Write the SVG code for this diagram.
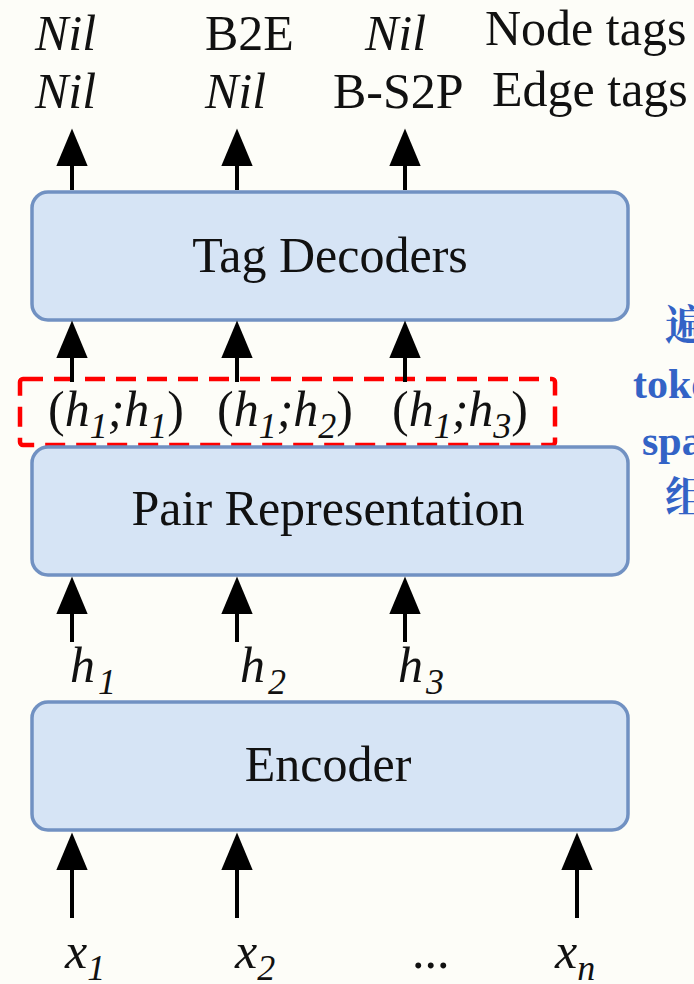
<svg xmlns="http://www.w3.org/2000/svg" width="694" height="984" viewBox="0 0 694 984">
<style>
.bg{fill:#fdfdf8}
.box{fill:#d6e4f5;stroke:#7191c2;stroke-width:3.5}
.lbl{font-family:"Liberation Serif","Times New Roman",serif;font-size:50px;fill:#111}
.it{font-style:italic}
.sub{font-size:36px;font-style:italic}
.arr{stroke:#000;stroke-width:4;fill:none;marker-end:url(#ah)}
.note{font-family:"Liberation Serif","Noto Serif CJK SC","Noto Sans CJK SC",serif;font-weight:bold;font-size:42px;fill:#3363c6}
</style>
<defs>
<marker id="ah" markerUnits="userSpaceOnUse" markerWidth="40" markerHeight="32" viewBox="0 0 38 30" refX="6" refY="15" orient="auto">
<path d="M0,0 L36,15 L0,30 z" fill="#000"/>
</marker>
</defs>
<rect class="bg" x="0" y="0" width="694" height="984"/>

<g id="output-tags" class="lbl">
<text x="35" y="50" class="it">Nil</text>
<text x="205" y="50">B2E</text>
<text x="365" y="50" class="it">Nil</text>
<text x="485" y="45">Node tags</text>
<text x="35" y="108" class="it">Nil</text>
<text x="205" y="108" class="it">Nil</text>
<text x="333" y="108">B-S2P</text>
<text x="492" y="106">Edge tags</text>
</g>

<g id="tag-decoders">
<rect class="box" x="32" y="192" width="596" height="128" rx="16"/>
<text class="lbl" x="330" y="272" text-anchor="middle">Tag Decoders</text>
</g>

<g id="pair-labels">
<rect x="20" y="379" width="535" height="66" rx="3" fill="none" stroke="#ff0000" stroke-width="4.5" stroke-dasharray="20 11"/>
<text class="lbl" x="48" y="426">(<tspan class="it">h</tspan><tspan class="sub" dy="12">1</tspan><tspan class="it" dy="-12">;h</tspan><tspan class="sub" dy="12">1</tspan><tspan dy="-12">)</tspan></text>
<text class="lbl" x="217" y="426">(<tspan class="it">h</tspan><tspan class="sub" dy="12">1</tspan><tspan class="it" dy="-12">;h</tspan><tspan class="sub" dy="12">2</tspan><tspan dy="-12">)</tspan></text>
<text class="lbl" x="392" y="426">(<tspan class="it">h</tspan><tspan class="sub" dy="12">1</tspan><tspan class="it" dy="-12">;h</tspan><tspan class="sub" dy="12">3</tspan><tspan dy="-12">)</tspan></text>
</g>

<g id="pair-representation">
<rect class="box" x="32" y="447" width="596" height="128" rx="16"/>
<text class="lbl" x="328" y="525" text-anchor="middle">Pair Representation</text>
</g>

<g id="hidden-labels" class="lbl">
<text x="70" y="682" class="it">h<tspan class="sub" dx="3" dy="12">1</tspan></text>
<text x="240" y="682" class="it">h<tspan class="sub" dx="3" dy="12">2</tspan></text>
<text x="398" y="682" class="it">h<tspan class="sub" dx="3" dy="12">3</tspan></text>
</g>

<g id="encoder">
<rect class="box" x="32" y="702" width="596" height="128" rx="16"/>
<text class="lbl" x="328" y="781" text-anchor="middle">Encoder</text>
</g>

<g id="inputs" class="lbl">
<text x="65" y="968" class="it">x<tspan class="sub" dy="12">1</tspan></text>
<text x="235" y="968" class="it">x<tspan class="sub" dy="12">2</tspan></text>
<text x="412" y="968">...</text>
<text x="555" y="968" class="it">x<tspan class="sub" dy="12">n</tspan></text>
</g>

<g id="note" class="note">
<text x="665" y="340">遍历</text>
<text x="633" y="398">token</text>
<text x="642" y="455">span</text>
<text x="665" y="512">组合</text>
</g>

<g id="connectors">
<line class="arr" x1="72" y1="190" x2="72" y2="160"/>
<line class="arr" x1="237" y1="190" x2="237" y2="160"/>
<line class="arr" x1="405" y1="190" x2="405" y2="160"/>
<line class="arr" x1="72" y1="382" x2="72" y2="352"/>
<line class="arr" x1="237" y1="382" x2="237" y2="352"/>
<line class="arr" x1="405" y1="382" x2="405" y2="352"/>
<line class="arr" x1="72" y1="642" x2="72" y2="608"/>
<line class="arr" x1="237" y1="642" x2="237" y2="608"/>
<line class="arr" x1="405" y1="642" x2="405" y2="608"/>
<line class="arr" x1="72" y1="918" x2="72" y2="864"/>
<line class="arr" x1="237" y1="918" x2="237" y2="864"/>
<line class="arr" x1="577" y1="918" x2="577" y2="864"/>
</g>
</svg>
